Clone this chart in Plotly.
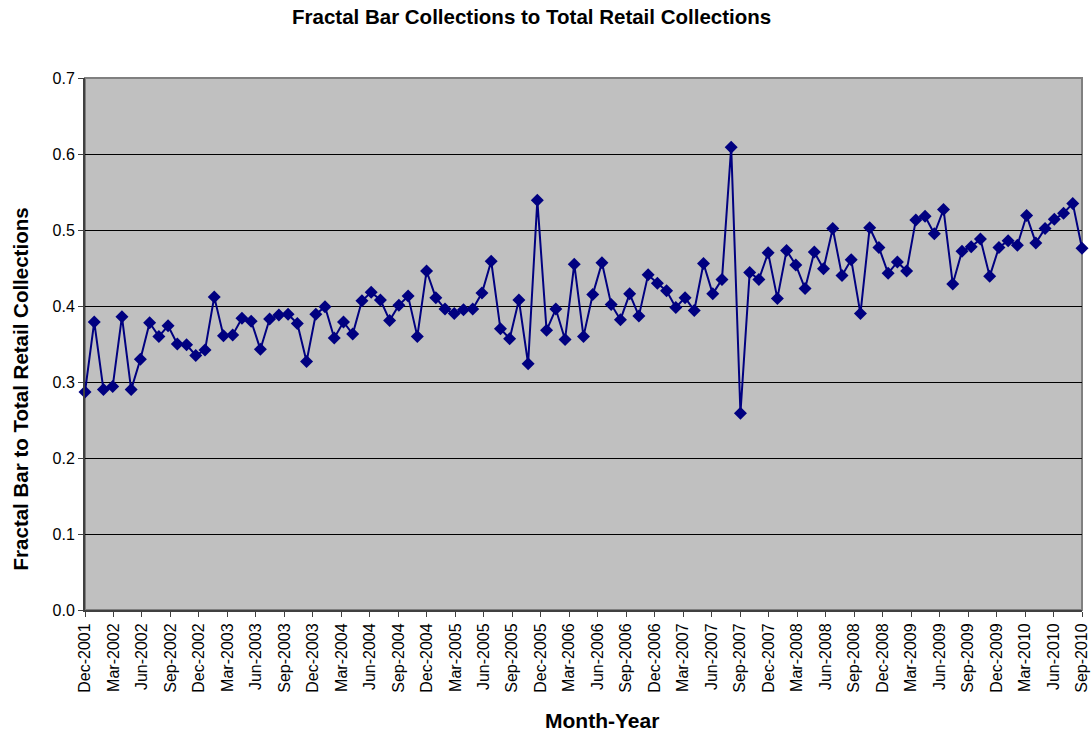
import numpy as np
import plotly.graph_objects as go

ratio_values = [
    0.287, 0.379, 0.290, 0.294, 0.386, 0.290, 0.330, 0.378, 0.360, 0.374,
    0.350, 0.349, 0.335, 0.342, 0.412, 0.361, 0.362, 0.384, 0.380, 0.343,
    0.383, 0.388, 0.389, 0.377, 0.327, 0.389, 0.399, 0.358, 0.379, 0.363,
    0.407, 0.418, 0.408, 0.381, 0.401, 0.413, 0.360, 0.446, 0.411, 0.396,
    0.390, 0.395, 0.396, 0.417, 0.459, 0.370, 0.357, 0.408, 0.324, 0.539,
    0.368, 0.396, 0.356, 0.455, 0.360, 0.415, 0.457, 0.402, 0.382, 0.416,
    0.387, 0.441, 0.430, 0.420, 0.398, 0.411, 0.394, 0.456, 0.416, 0.435,
    0.609, 0.259, 0.444, 0.435, 0.470, 0.410, 0.473, 0.454, 0.423, 0.471,
    0.449, 0.502, 0.440, 0.461, 0.390, 0.503, 0.477, 0.443, 0.458, 0.446,
    0.513, 0.518, 0.495, 0.527, 0.429, 0.472, 0.478, 0.488, 0.439, 0.477,
    0.486, 0.480, 0.519, 0.483, 0.502, 0.514, 0.522, 0.535, 0.476,
]

tick_labels = [
    "Dec-2001", "Mar-2002", "Jun-2002", "Sep-2002", "Dec-2002", "Mar-2003",
    "Jun-2003", "Sep-2003", "Dec-2003", "Mar-2004", "Jun-2004", "Sep-2004",
    "Dec-2004", "Mar-2005", "Jun-2005", "Sep-2005", "Dec-2005", "Mar-2006",
    "Jun-2006", "Sep-2006", "Dec-2006", "Mar-2007", "Jun-2007", "Sep-2007",
    "Dec-2007", "Mar-2008", "Jun-2008", "Sep-2008", "Dec-2008", "Mar-2009",
    "Jun-2009", "Sep-2009", "Dec-2009", "Mar-2010", "Jun-2010", "Sep-2010",
]

y_ticks = [0.0, 0.1, 0.2, 0.3, 0.4, 0.5, 0.6, 0.7]

FONT = "Liberation Sans, Arial, sans-serif"
NAVY = "#000080"

tick_pos = list(range(len(tick_labels)))
x_pos = np.linspace(0, len(tick_labels) - 1, len(ratio_values))

fig = go.Figure()
fig.add_trace(go.Scatter(
    x=x_pos, y=ratio_values, mode="lines+markers",
    line=dict(color=NAVY, width=2),
    marker=dict(symbol="diamond", size=10, color=NAVY, line=dict(width=0)),
    cliponaxis=False, showlegend=False,
))

fig.update_layout(
    width=1091, height=733,
    margin=dict(l=85, r=9, t=78, b=123, autoexpand=False),
    paper_bgcolor="white", plot_bgcolor="#C0C0C0",
    font=dict(family=FONT, size=16, color="black"),
    xaxis=dict(
        range=[0, len(tick_labels) - 1], automargin=False,
        tickmode="array", tickvals=tick_pos, ticktext=tick_labels,
        tickangle=-90, ticks="outside", ticklen=5, tickcolor="#404040",
        showgrid=False, zeroline=False, ticklabeloverflow="allow",
        showline=True, linecolor="#404040", linewidth=2,
        tickfont=dict(family=FONT, size=16),
    ),
    yaxis=dict(
        range=[0, 0.7], automargin=False, tickmode="array", tickvals=y_ticks,
        ticktext=[f"{v:.1f}" for v in y_ticks],
        ticks="outside", ticklen=5, tickcolor="#404040",
        showgrid=True, gridcolor="black", gridwidth=1, zeroline=False,
        showline=True, linecolor="#404040", linewidth=2,
        tickfont=dict(family=FONT, size=16),
    ),
    shapes=[dict(type="rect", xref="paper", yref="paper", x0=0, x1=1, y0=0, y1=1,
                 line=dict(color="#808080", width=2), layer="below")],
    annotations=[
        dict(text="<b>Fractal Bar Collections to Total Retail Collections</b>",
             xref="paper", yref="paper", x=0.448, y=1.115, showarrow=False,
             xanchor="center", yanchor="middle", font=dict(family=FONT, size=20.5)),
        dict(text="<b>Fractal Bar to Total Retail Collections</b>",
             xref="paper", yref="paper", x=-0.065, y=0.415, showarrow=False,
             textangle=-90, xanchor="center", yanchor="middle",
             font=dict(family=FONT, size=20.5)),
        dict(text="<b>Month-Year</b>",
             xref="paper", yref="paper", x=0.519, y=-0.207, showarrow=False,
             xanchor="center", yanchor="middle", font=dict(family=FONT, size=21)),
    ],
)

fig.write_html("out.html")
